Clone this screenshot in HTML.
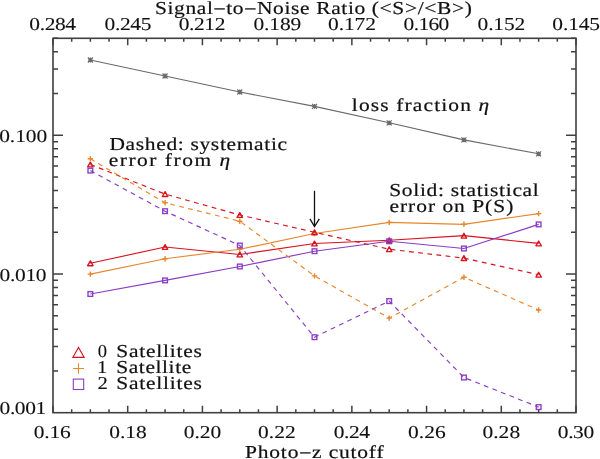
<!DOCTYPE html><html><head><meta charset="utf-8"><style>html,body{margin:0;padding:0;background:#fff;}svg{display:block}text{font-family:"Liberation Serif",serif;font-size:18.2px;fill:#111;stroke:#111;stroke-width:0.2px;text-rendering:geometricPrecision}</style></head><body>
<svg style="will-change:transform" width="600" height="459" viewBox="0 0 600 459">
<rect width="600" height="459" fill="#fff"/>
<rect x="53.0" y="38.3" width="523.0" height="374.4" fill="none" stroke="#404040" stroke-width="1.6"/>
<path d="M53.00 412.7v-7M53.00 38.3v7M71.68 412.7v-3.5M71.68 38.3v3.5M90.36 412.7v-3.5M90.36 38.3v3.5M109.04 412.7v-3.5M109.04 38.3v3.5M127.71 412.7v-7M127.71 38.3v7M146.39 412.7v-3.5M146.39 38.3v3.5M165.07 412.7v-3.5M165.07 38.3v3.5M183.75 412.7v-3.5M183.75 38.3v3.5M202.43 412.7v-7M202.43 38.3v7M221.11 412.7v-3.5M221.11 38.3v3.5M239.79 412.7v-3.5M239.79 38.3v3.5M258.46 412.7v-3.5M258.46 38.3v3.5M277.14 412.7v-7M277.14 38.3v7M295.82 412.7v-3.5M295.82 38.3v3.5M314.50 412.7v-3.5M314.50 38.3v3.5M333.18 412.7v-3.5M333.18 38.3v3.5M351.86 412.7v-7M351.86 38.3v7M370.54 412.7v-3.5M370.54 38.3v3.5M389.21 412.7v-3.5M389.21 38.3v3.5M407.89 412.7v-3.5M407.89 38.3v3.5M426.57 412.7v-7M426.57 38.3v7M445.25 412.7v-3.5M445.25 38.3v3.5M463.93 412.7v-3.5M463.93 38.3v3.5M482.61 412.7v-3.5M482.61 38.3v3.5M501.29 412.7v-7M501.29 38.3v7M519.96 412.7v-3.5M519.96 38.3v3.5M538.64 412.7v-3.5M538.64 38.3v3.5M557.32 412.7v-3.5M557.32 38.3v3.5M576.00 412.7v-7M576.00 38.3v7M53.0 370.95h5M576.0 370.95h-5M53.0 346.52h5M576.0 346.52h-5M53.0 329.19h5M576.0 329.19h-5M53.0 315.75h5M576.0 315.75h-5M53.0 304.77h5M576.0 304.77h-5M53.0 295.48h5M576.0 295.48h-5M53.0 287.44h5M576.0 287.44h-5M53.0 280.35h5M576.0 280.35h-5M53.0 274.00h10M576.0 274.00h-10M53.0 232.25h5M576.0 232.25h-5M53.0 207.82h5M576.0 207.82h-5M53.0 190.49h5M576.0 190.49h-5M53.0 177.05h5M576.0 177.05h-5M53.0 166.07h5M576.0 166.07h-5M53.0 156.78h5M576.0 156.78h-5M53.0 148.74h5M576.0 148.74h-5M53.0 141.65h5M576.0 141.65h-5M53.0 135.30h10M576.0 135.30h-10M53.0 93.55h5M576.0 93.55h-5M53.0 69.12h5M576.0 69.12h-5M53.0 51.79h5M576.0 51.79h-5M53.0 38.35h5M576.0 38.35h-5" stroke="#404040" stroke-width="1.5" fill="none"/>
<polyline points="90.36,60.00 165.07,76.00 239.79,92.00 314.50,106.40 389.21,122.80 463.93,139.90 538.64,153.80" fill="none" stroke="#6a6a6a" stroke-width="1.15"/>
<path d="M87.96 60.00h4.8M90.36 57.60v4.8M87.86 57.50l5.0 5.0M87.86 62.50l5.0 -5.0" stroke="#6a6a6a" stroke-width="1.2" fill="none"/>
<path d="M162.67 76.00h4.8M165.07 73.60v4.8M162.57 73.50l5.0 5.0M162.57 78.50l5.0 -5.0" stroke="#6a6a6a" stroke-width="1.2" fill="none"/>
<path d="M237.39 92.00h4.8M239.79 89.60v4.8M237.29 89.50l5.0 5.0M237.29 94.50l5.0 -5.0" stroke="#6a6a6a" stroke-width="1.2" fill="none"/>
<path d="M312.10 106.40h4.8M314.50 104.00v4.8M312.00 103.90l5.0 5.0M312.00 108.90l5.0 -5.0" stroke="#6a6a6a" stroke-width="1.2" fill="none"/>
<path d="M386.81 122.80h4.8M389.21 120.40v4.8M386.71 120.30l5.0 5.0M386.71 125.30l5.0 -5.0" stroke="#6a6a6a" stroke-width="1.2" fill="none"/>
<path d="M461.53 139.90h4.8M463.93 137.50v4.8M461.43 137.40l5.0 5.0M461.43 142.40l5.0 -5.0" stroke="#6a6a6a" stroke-width="1.2" fill="none"/>
<path d="M536.24 153.80h4.8M538.64 151.40v4.8M536.14 151.30l5.0 5.0M536.14 156.30l5.0 -5.0" stroke="#6a6a6a" stroke-width="1.2" fill="none"/>
<polyline points="90.36,263.30 165.07,247.00 239.79,254.50 314.50,243.50 389.21,240.30 463.93,235.70 538.64,243.40" fill="none" stroke="#d8121f" stroke-width="1.15"/>
<path d="M87.66 265.70L90.36 260.90L93.06 265.70Z" fill="none" stroke="#d8121f" stroke-width="1.35" stroke-linejoin="round"/>
<path d="M162.37 249.40L165.07 244.60L167.77 249.40Z" fill="none" stroke="#d8121f" stroke-width="1.35" stroke-linejoin="round"/>
<path d="M237.09 256.90L239.79 252.10L242.49 256.90Z" fill="none" stroke="#d8121f" stroke-width="1.35" stroke-linejoin="round"/>
<path d="M311.80 245.90L314.50 241.10L317.20 245.90Z" fill="none" stroke="#d8121f" stroke-width="1.35" stroke-linejoin="round"/>
<path d="M386.51 242.70L389.21 237.90L391.91 242.70Z" fill="none" stroke="#d8121f" stroke-width="1.35" stroke-linejoin="round"/>
<path d="M461.23 238.10L463.93 233.30L466.63 238.10Z" fill="none" stroke="#d8121f" stroke-width="1.35" stroke-linejoin="round"/>
<path d="M535.94 245.80L538.64 241.00L541.34 245.80Z" fill="none" stroke="#d8121f" stroke-width="1.35" stroke-linejoin="round"/>
<polyline points="90.36,274.10 165.07,258.70 239.79,249.30 314.50,233.50 389.21,222.40 463.93,224.30 538.64,213.60" fill="none" stroke="#e8862c" stroke-width="1.15"/>
<path d="M87.66 274.10h5.4M90.36 271.40v5.4" stroke="#e8862c" stroke-width="1.4" fill="none"/>
<path d="M162.37 258.70h5.4M165.07 256.00v5.4" stroke="#e8862c" stroke-width="1.4" fill="none"/>
<path d="M237.09 249.30h5.4M239.79 246.60v5.4" stroke="#e8862c" stroke-width="1.4" fill="none"/>
<path d="M311.80 233.50h5.4M314.50 230.80v5.4" stroke="#e8862c" stroke-width="1.4" fill="none"/>
<path d="M386.51 222.40h5.4M389.21 219.70v5.4" stroke="#e8862c" stroke-width="1.4" fill="none"/>
<path d="M461.23 224.30h5.4M463.93 221.60v5.4" stroke="#e8862c" stroke-width="1.4" fill="none"/>
<path d="M535.94 213.60h5.4M538.64 210.90v5.4" stroke="#e8862c" stroke-width="1.4" fill="none"/>
<polyline points="90.36,294.00 165.07,280.40 239.79,266.50 314.50,251.20 389.21,241.30 463.93,248.50 538.64,224.40" fill="none" stroke="#8a3cc4" stroke-width="1.15"/>
<rect x="88.01" y="291.65" width="4.7" height="4.7" fill="none" stroke="#8a3cc4" stroke-width="1.35"/>
<rect x="162.72" y="278.05" width="4.7" height="4.7" fill="none" stroke="#8a3cc4" stroke-width="1.35"/>
<rect x="237.44" y="264.15" width="4.7" height="4.7" fill="none" stroke="#8a3cc4" stroke-width="1.35"/>
<rect x="312.15" y="248.85" width="4.7" height="4.7" fill="none" stroke="#8a3cc4" stroke-width="1.35"/>
<rect x="386.86" y="238.95" width="4.7" height="4.7" fill="none" stroke="#8a3cc4" stroke-width="1.35"/>
<rect x="461.58" y="246.15" width="4.7" height="4.7" fill="none" stroke="#8a3cc4" stroke-width="1.35"/>
<rect x="536.29" y="222.05" width="4.7" height="4.7" fill="none" stroke="#8a3cc4" stroke-width="1.35"/>
<polyline points="90.36,164.50 165.07,194.10 239.79,215.00 314.50,232.30 389.21,249.20 463.93,258.10 538.64,274.70" fill="none" stroke="#d8121f" stroke-width="1.15" stroke-dasharray="4.8 4.4"/>
<path d="M87.66 166.90L90.36 162.10L93.06 166.90Z" fill="none" stroke="#d8121f" stroke-width="1.35" stroke-linejoin="round"/>
<path d="M162.37 196.50L165.07 191.70L167.77 196.50Z" fill="none" stroke="#d8121f" stroke-width="1.35" stroke-linejoin="round"/>
<path d="M237.09 217.40L239.79 212.60L242.49 217.40Z" fill="none" stroke="#d8121f" stroke-width="1.35" stroke-linejoin="round"/>
<path d="M311.80 234.70L314.50 229.90L317.20 234.70Z" fill="none" stroke="#d8121f" stroke-width="1.35" stroke-linejoin="round"/>
<path d="M386.51 251.60L389.21 246.80L391.91 251.60Z" fill="none" stroke="#d8121f" stroke-width="1.35" stroke-linejoin="round"/>
<path d="M461.23 260.50L463.93 255.70L466.63 260.50Z" fill="none" stroke="#d8121f" stroke-width="1.35" stroke-linejoin="round"/>
<path d="M535.94 277.10L538.64 272.30L541.34 277.10Z" fill="none" stroke="#d8121f" stroke-width="1.35" stroke-linejoin="round"/>
<polyline points="90.36,158.80 165.07,202.80 239.79,221.20 314.50,275.90 389.21,318.10 463.93,277.20 538.64,310.00" fill="none" stroke="#e8862c" stroke-width="1.15" stroke-dasharray="4.8 4.4"/>
<path d="M87.66 158.80h5.4M90.36 156.10v5.4" stroke="#e8862c" stroke-width="1.4" fill="none"/>
<path d="M162.37 202.80h5.4M165.07 200.10v5.4" stroke="#e8862c" stroke-width="1.4" fill="none"/>
<path d="M237.09 221.20h5.4M239.79 218.50v5.4" stroke="#e8862c" stroke-width="1.4" fill="none"/>
<path d="M311.80 275.90h5.4M314.50 273.20v5.4" stroke="#e8862c" stroke-width="1.4" fill="none"/>
<path d="M386.51 318.10h5.4M389.21 315.40v5.4" stroke="#e8862c" stroke-width="1.4" fill="none"/>
<path d="M461.23 277.20h5.4M463.93 274.50v5.4" stroke="#e8862c" stroke-width="1.4" fill="none"/>
<path d="M535.94 310.00h5.4M538.64 307.30v5.4" stroke="#e8862c" stroke-width="1.4" fill="none"/>
<polyline points="90.36,170.60 165.07,211.20 239.79,245.50 314.50,337.20 389.21,301.10 463.93,377.50 538.64,407.10" fill="none" stroke="#8a3cc4" stroke-width="1.15" stroke-dasharray="4.8 4.4"/>
<rect x="88.01" y="168.25" width="4.7" height="4.7" fill="none" stroke="#8a3cc4" stroke-width="1.35"/>
<rect x="162.72" y="208.85" width="4.7" height="4.7" fill="none" stroke="#8a3cc4" stroke-width="1.35"/>
<rect x="237.44" y="243.15" width="4.7" height="4.7" fill="none" stroke="#8a3cc4" stroke-width="1.35"/>
<rect x="312.15" y="334.85" width="4.7" height="4.7" fill="none" stroke="#8a3cc4" stroke-width="1.35"/>
<rect x="386.86" y="298.75" width="4.7" height="4.7" fill="none" stroke="#8a3cc4" stroke-width="1.35"/>
<rect x="461.58" y="375.15" width="4.7" height="4.7" fill="none" stroke="#8a3cc4" stroke-width="1.35"/>
<rect x="536.29" y="404.75" width="4.7" height="4.7" fill="none" stroke="#8a3cc4" stroke-width="1.35"/>
<path d="M314.5 190.8V226" stroke="#111" stroke-width="1.3" fill="none"/>
<path d="M309.9 218.8L314.5 226.5L319.3 218.8" stroke="#111" stroke-width="1.3" fill="none"/>
<path d="M72.8 357.4L78.5 347.4L84.2 357.4Z" fill="none" stroke="#d8121f" stroke-width="1.1"/>
<path d="M73.1 368.5H83.9M78.5 363.2V373.7" fill="none" stroke="#e8862c" stroke-width="1.1"/>
<rect x="73.3" y="379.1" width="10.4" height="10.4" fill="none" stroke="#8a3cc4" stroke-width="1.1"/>
<text transform="translate(154.92 0) scale(1.18 1)" x="0" y="14" textLength="268.57" lengthAdjust="spacing">Signal<tspan dy="1" style="stroke:#111;stroke-width:0.35">−</tspan><tspan dy="-1">to</tspan><tspan dy="1" style="stroke:#111;stroke-width:0.35">−</tspan><tspan dy="-1">Noise</tspan> Ratio (&lt;S&gt;/&lt;B&gt;)</text>
<text style="stroke-width:0.1px" transform="translate(29.29 0) scale(1.18 1)" x="0" y="30" textLength="39.68" lengthAdjust="spacing">0.284</text>
<text style="stroke-width:0.1px" transform="translate(104.55 0) scale(1.18 1)" x="0" y="30" textLength="39.68" lengthAdjust="spacing">0.245</text>
<text style="stroke-width:0.1px" transform="translate(178.64 0) scale(1.18 1)" x="0" y="30" textLength="39.68" lengthAdjust="spacing">0.212</text>
<text style="stroke-width:0.1px" transform="translate(253.47 0) scale(1.18 1)" x="0" y="30" textLength="40.58" lengthAdjust="spacing">0.189</text>
<text style="stroke-width:0.1px" transform="translate(328.11 0) scale(1.18 1)" x="0" y="30" textLength="40.58" lengthAdjust="spacing">0.172</text>
<text style="stroke-width:0.1px" transform="translate(403.6 0) scale(1.18 1)" x="0" y="30" textLength="38.73" lengthAdjust="spacing">0.160</text>
<text style="stroke-width:0.1px" transform="translate(477.59 0) scale(1.18 1)" x="0" y="30" textLength="40.42" lengthAdjust="spacing">0.152</text>
<text style="stroke-width:0.1px" transform="translate(552.37 0) scale(1.18 1)" x="0" y="30" textLength="40.42" lengthAdjust="spacing">0.145</text>
<text style="stroke-width:0.1px" transform="translate(-0.8 0) scale(1.18 1)" x="0" y="142" textLength="40.72" lengthAdjust="spacing">0.100</text>
<text style="stroke-width:0.1px" transform="translate(-0.56 0) scale(1.18 1)" x="0" y="281" textLength="39.96" lengthAdjust="spacing">0.010</text>
<text style="stroke-width:0.1px" transform="translate(-0.44 0) scale(1.18 1)" x="0" y="414" textLength="39.60" lengthAdjust="spacing">0.001</text>
<text style="stroke-width:0.1px" transform="translate(33.74 0) scale(1.18 1)" x="0" y="438" textLength="31.38" lengthAdjust="spacing">0.16</text>
<text style="stroke-width:0.1px" transform="translate(109.19 0) scale(1.18 1)" x="0" y="438" textLength="31.91" lengthAdjust="spacing">0.18</text>
<text style="stroke-width:0.1px" transform="translate(183.65 0) scale(1.18 1)" x="0" y="438" textLength="31.91" lengthAdjust="spacing">0.20</text>
<text style="stroke-width:0.1px" transform="translate(258.1 0) scale(1.18 1)" x="0" y="438" textLength="31.91" lengthAdjust="spacing">0.22</text>
<text style="stroke-width:0.1px" transform="translate(333.75 0) scale(1.18 1)" x="0" y="438" textLength="30.76" lengthAdjust="spacing">0.24</text>
<text style="stroke-width:0.1px" transform="translate(408.01 0) scale(1.18 1)" x="0" y="438" textLength="31.91" lengthAdjust="spacing">0.26</text>
<text style="stroke-width:0.1px" transform="translate(482.47 0) scale(1.18 1)" x="0" y="438" textLength="31.91" lengthAdjust="spacing">0.28</text>
<text style="stroke-width:0.1px" transform="translate(557.85 0) scale(1.18 1)" x="0" y="438" textLength="30.76" lengthAdjust="spacing">0.30</text>
<text transform="translate(245.0 0) scale(1.18 1)" x="0" y="458" textLength="117.46" lengthAdjust="spacing">Photo<tspan dy="1" style="stroke:#111;stroke-width:0.35">−</tspan><tspan dy="-1">z</tspan> cutoff</text>
<text transform="translate(351.82 0) scale(1.18 1)" x="0" y="111" textLength="116.45" lengthAdjust="spacing">loss fraction <tspan font-style="italic">η</tspan></text>
<text transform="translate(109.46 0) scale(1.18 1)" x="0" y="150" textLength="150.52" lengthAdjust="spacing">Dashed: systematic</text>
<text transform="translate(108.74 0) scale(1.18 1)" x="0" y="166" textLength="102.89" lengthAdjust="spacing">error from <tspan font-style="italic">η</tspan></text>
<text transform="translate(389.2 0) scale(1.18 1)" x="0" y="196" textLength="126.79" lengthAdjust="spacing">Solid: statistical</text>
<text transform="translate(389.5 0) scale(1.18 1)" x="0" y="212" textLength="104.92" lengthAdjust="spacing">error on P(S)</text>
<text style="stroke-width:0.1px" x="97.8" y="357" textLength="9.30" lengthAdjust="spacingAndGlyphs">0</text>
<text transform="translate(116.2 0) scale(1.18 1)" x="0" y="357" textLength="72.59" lengthAdjust="spacing">Satellites</text>
<text style="stroke-width:0.1px" x="97.12" y="373" textLength="10.42" lengthAdjust="spacingAndGlyphs">1</text>
<text transform="translate(116.2 0) scale(1.18 1)" x="0" y="373" textLength="63.59" lengthAdjust="spacing">Satellite</text>
<text style="stroke-width:0.1px" x="97.64" y="389" textLength="10.35" lengthAdjust="spacingAndGlyphs">2</text>
<text transform="translate(116.2 0) scale(1.18 1)" x="0" y="389" textLength="72.59" lengthAdjust="spacing">Satellites</text>
</svg></body></html>
